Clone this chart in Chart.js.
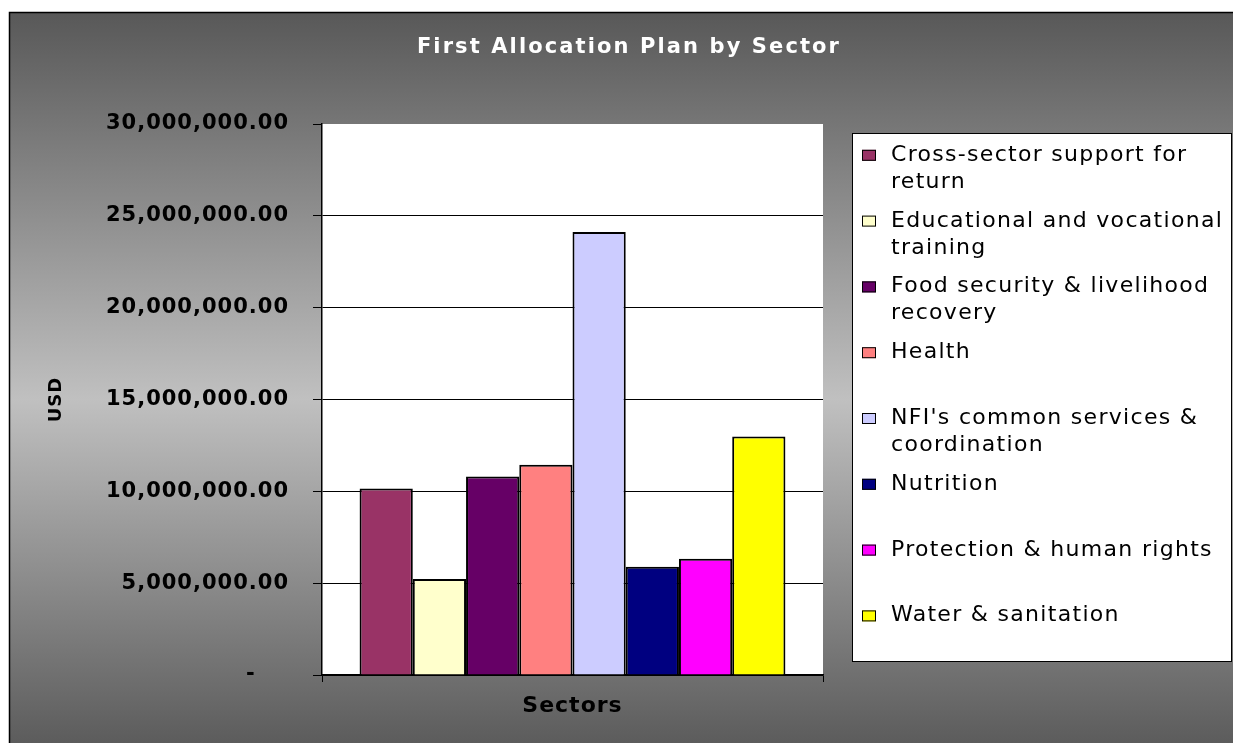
<!DOCTYPE html>
<html>
<head>
<meta charset="utf-8">
<title>First Allocation Plan by Sector</title>
<script src="https://cdn.jsdelivr.net/npm/chart.js@4.4.0/dist/chart.umd.min.js"></script>
<style>
  html, body { margin: 0; padding: 0; background: #fff; }
  #chart { display: block; }
</style>
</head>
<body>
<canvas id="chart" width="1233" height="743"></canvas>
<script>
const chartTitle = 'First Allocation Plan by Sector';
const xTitle = 'Sectors';
const yTitle = 'USD';
const categories = [''];
const sectors = [
  'Cross-sector support for return',
  'Educational and vocational training',
  'Food security & livelihood recovery',
  'Health',
  "NFI's common services & coordination",
  'Nutrition',
  'Protection & human rights',
  'Water & sanitation'
];
const allocations = [10160000, 5230000, 10810000, 11450000, 24120000, 5890000, 6330000, 12980000];
const sectorColors = ['#993366', '#FFFFCC', '#660066', '#FF8080', '#CCCCFF', '#000080', '#FF00FF', '#FFFF00'];
const yTicks = [0, 5000000, 10000000, 15000000, 20000000, 25000000, 30000000];

const FONT = '"DejaVu Sans", Verdana, sans-serif';
const yMax = yTicks[yTicks.length - 1];

function fmtUSD(v) {
  if (v === 0) return '-    ';
  return v.toLocaleString('en-US', { minimumFractionDigits: 2, maximumFractionDigits: 2 });
}

// wrap a legend label into lines that fit the box
function wrap(ctx, text, maxW) {
  const words = text.split(' ');
  const lines = [];
  let cur = '';
  words.forEach(w => {
    const test = cur ? cur + ' ' + w : w;
    if (cur && ctx.measureText(test).width > maxW) {
      lines.push(cur);
      cur = w;
    } else {
      cur = test;
    }
  });
  if (cur) lines.push(cur);
  return lines;
}

const framePlugin = {
  id: 'frame',
  beforeDraw(chart) {
    const { ctx, width, height, chartArea: a } = chart;
    ctx.save();
    ctx.fillStyle = '#fff';
    ctx.fillRect(0, 0, width, height);
    const g = ctx.createLinearGradient(0, 12, 0, height);
    g.addColorStop(0, '#585858');
    g.addColorStop(0.53, '#c0c0c0');
    g.addColorStop(1, '#5c5c5c');
    ctx.fillStyle = g;
    ctx.fillRect(9, 12, width - 9, height - 12);
    ctx.strokeStyle = '#000';
    ctx.lineWidth = 1.5;
    ctx.beginPath();
    ctx.moveTo(9.5, height);
    ctx.lineTo(9.5, 12.5);
    ctx.lineTo(width, 12.5);
    ctx.stroke();
    ctx.fillStyle = '#fff';
    ctx.fillRect(a.left, a.top, a.right - a.left, a.bottom - a.top);
    ctx.restore();
    ctx.letterSpacing = '1px';
  },
  afterDraw(chart) {
    const ctx = chart.ctx;
    ctx.save();
    // title
    ctx.letterSpacing = '2.1px';
    ctx.font = 'bold 21px ' + FONT;
    ctx.fillStyle = '#fff';
    ctx.textAlign = 'center';
    ctx.textBaseline = 'alphabetic';
    ctx.fillText(chartTitle, 629, 53);

    // legend
    ctx.letterSpacing = '1.3px';
    ctx.fillStyle = '#fff';
    ctx.fillRect(852, 133, 380, 528);
    ctx.strokeStyle = '#000';
    ctx.lineWidth = 1;
    ctx.strokeRect(852.5, 133.5, 379, 528);
    ctx.font = '22px ' + FONT;
    ctx.textAlign = 'left';
    chart.data.datasets.forEach((ds, i) => {
      const base = 160.8 + i * 65.8;
      ctx.fillStyle = ds.backgroundColor;
      ctx.fillRect(862, base - 11, 14, 11);
      ctx.strokeStyle = '#000';
      ctx.strokeRect(862.5, base - 10.5, 13, 10);
      ctx.fillStyle = '#000';
      wrap(ctx, ds.label, 342).forEach((line, k) => {
        ctx.fillText(line, 891, base + k * 27);
      });
    });
    ctx.restore();
    ctx.letterSpacing = '0px';
  }
};

const ctx = document.getElementById('chart').getContext('2d');

const datasets = sectors.map((name, i) => ({
  label: name,
  data: [allocations[i]],
  backgroundColor: sectorColors[i],
  borderColor: '#000',
  borderWidth: 2,
  categoryPercentage: 0.85,
  barPercentage: 1.0
}));

const myChart = new Chart(ctx, {
  type: 'bar',
  data: { labels: categories, datasets: datasets },
  options: {
    responsive: false,
    maintainAspectRatio: false,
    animation: false,
    devicePixelRatio: 1,
    layout: { padding: { left: 0, top: 124, right: 410, bottom: 0 } },
    plugins: {
      legend: { display: false },
      title: { display: false },
      tooltip: { enabled: false }
    },
    scales: {
      x: {
        offset: true,
        afterFit: s => { s.height = 68; },
        grid: {
          offset: true,
          drawOnChartArea: false,
          drawTicks: true,
          tickLength: 7,
          tickColor: '#000'
        },
        border: { display: true, color: '#000', width: 1.5 },
        ticks: { display: true, font: { family: FONT, size: 21, weight: 'bold' }, color: '#000' },
        title: {
          display: true,
          text: xTitle,
          color: '#000',
          font: { family: FONT, size: 22, weight: 'bold' },
          padding: { top: 0, bottom: 24 }
        }
      },
      y: {
        min: yTicks[0],
        max: yMax,
        afterFit: s => { s.width = 322; },
        afterBuildTicks: s => { s.ticks = yTicks.map(v => ({ value: v })); },
        grid: {
          color: c => (c.tick && c.tick.value === yMax) ? 'rgba(0,0,0,0)' : '#000',
          lineWidth: 1,
          tickLength: 9,
          tickColor: '#000'
        },
        border: { display: true, color: '#000', width: 1.5 },
        ticks: {
          padding: 24,
          color: '#000',
          font: { family: FONT, size: 21, weight: 'bold' },
          callback: v => fmtUSD(v)
        },
        title: {
          display: true,
          text: yTitle,
          color: '#000',
          font: { family: FONT, size: 18, weight: 'bold' },
          padding: { top: 46, bottom: 0 }
        }
      }
    }
  },
  plugins: [framePlugin]
});
</script>
</body>
</html>
